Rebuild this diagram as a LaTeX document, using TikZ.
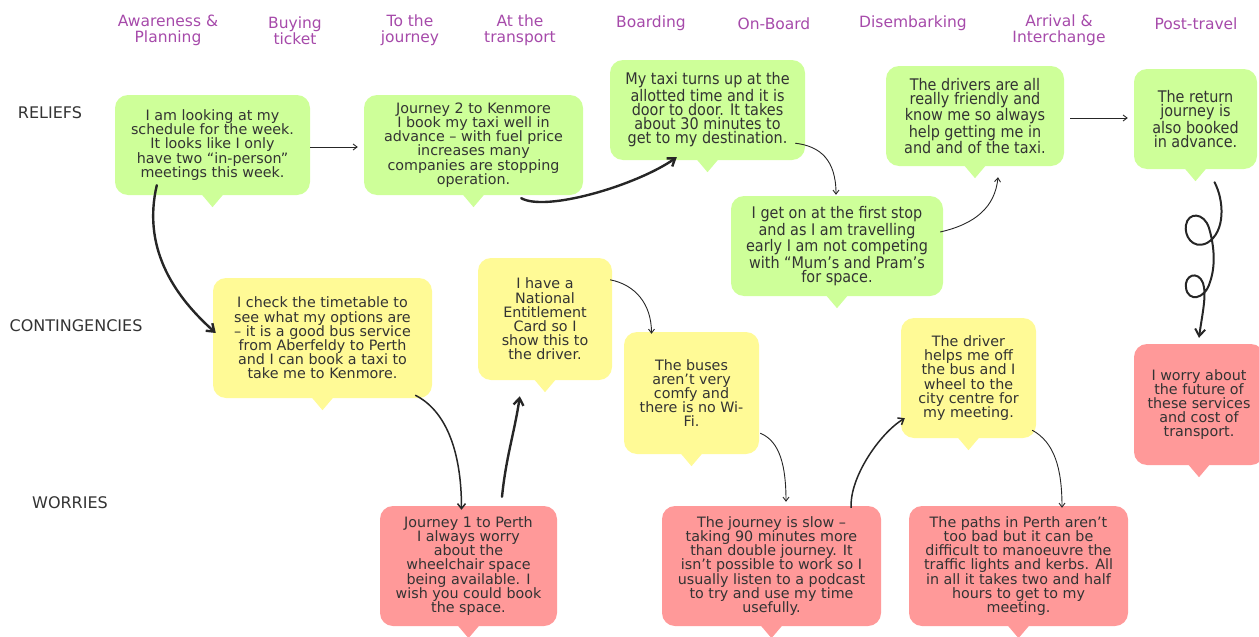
\documentclass[tikz,border=0pt]{standalone}
\usepackage{fontspec}
\setmainfont{DejaVu Sans}
\newfontfamily\condfont{DejaVu Sans}[FakeStretch=0.9]
\usetikzlibrary{arrows.meta}
\definecolor{ReliefGreen}{RGB}{206,255,153}
\definecolor{ContYellow}{RGB}{255,250,150}
\definecolor{WorryRed}{RGB}{255,153,153}
\definecolor{HeadPurple}{RGB}{166,74,170}
\definecolor{InkGrey}{RGB}{51,51,51}
\tikzset{
  bubble/.style={rounded corners=13pt, inner sep=0pt, align=center, text=InkGrey,
    font=\fontsize{14.3}{14.2}\selectfont},
  condtext/.style={font=\condfont\fontsize{16}{14.2}\selectfont},
  relief/.style={bubble, fill=ReliefGreen},
  contbox/.style={bubble, fill=ContYellow},
  worrybox/.style={bubble, fill=WorryRed},
  stage/.style={text=HeadPurple, align=center, font=\fontsize{15.5}{16}\selectfont},
  rowlabel/.style={text=InkGrey, font=\fontsize{16}{16}\selectfont},
  thinarr/.style={-{Straight Barb[length=4pt,width=6pt]}, line width=0.9pt, black!85},
  midarr/.style={-{Straight Barb[length=5pt,width=8pt]}, line width=1.5pt, black!85},
  thickarr/.style={-{Straight Barb[length=7pt,width=10pt]}, line width=2.4pt, black!85, line cap=round},
}

\begin{document}
\begin{tikzpicture}[x=1pt, y=-1pt]
  \useasboundingbox (0,0) rectangle (1259,637);
  % stages along the journey
  \foreach \x/\y/\t [count=\i] in {168/30.5/{Awareness \&\\Planning}, 295/30.5/{Buying\\ticket},
      410/30.5/{To the\\journey}, 520/30.5/{At the\\transport}, 651/23.5/Boarding, 774/23.5/On-Board,
      913/23.5/Disembarking, 1059/30.5/{Arrival \&\\Interchange}, 1196/23.5/Post-travel}
    \node[stage] (st\i) at (\x,\y) {\t};
  % rows
  \node[rowlabel] (lrel) at (50,113) {RELIEFS};
  \node[rowlabel] (lcon) at (76,326) {CONTINGENCIES};
  \node[rowlabel] (lwor) at (70,503) {WORRIES};

  % reliefs
  \node[relief, minimum width=195, minimum height=100] (g1) at (212.5,145)
    {I am looking at my\\schedule for the week.\\It looks like I only\\have two “in-person”\\meetings this week.};
  \node[relief, minimum width=219, minimum height=100] (g2) at (473.5,145)
    {Journey 2 to Kenmore\\I book my taxi well in\\advance – with fuel price\\increases many\\companies are stopping\\operation.};
  \node[relief, condtext, minimum width=195, minimum height=100] (g3) at (707.5,110)
    {My taxi turns up at the\\allotted time and it is\\door to door. It takes\\about 30 minutes to\\get to my destination.};
  \node[relief, condtext, minimum width=212, minimum height=100] (g4) at (837,246)
    {I get on at the first stop\\and as I am travelling\\early I am not competing\\with “Mum’s and Pram’s\\for space.};
  \node[relief, condtext, minimum width=178, minimum height=100] (g5) at (975,116)
    {The drivers are all\\really friendly and\\know me so always\\help getting me in\\and and of the taxi.};
  \node[relief, condtext, minimum width=123, minimum height=100] (g6) at (1195.5,119)
    {The return\\journey is\\also booked\\in advance.};

  % contingencies
  \node[contbox, minimum width=219, minimum height=120] (y1) at (322.5,338)
    {I check the timetable to\\see what my options are\\– it is a good bus service\\from Aberfeldy to Perth\\and I can book a taxi to\\take me to Kenmore.};
  \node[contbox, minimum width=134, minimum height=122] (y2) at (545,319)
    {I have a\\National\\Entitlement\\Card so I\\show this to\\the driver.};
  \node[contbox, minimum width=135, minimum height=122] (y3) at (691.5,393)
    {The buses\\aren’t very\\comfy and\\there is no Wi-\\Fi.};
  \node[contbox, minimum width=135, minimum height=120] (y4) at (968.5,378)
    {The driver\\helps me off\\the bus and I\\wheel to the\\city centre for\\my meeting.};

  % worries
  \node[worrybox, minimum width=177, minimum height=120] (r1) at (468.5,566)
    {Journey 1 to Perth\\I always worry\\about the\\wheelchair space\\being available. I\\wish you could book\\the space.};
  \node[worrybox, minimum width=219, minimum height=120] (r2) at (771.5,566)
    {The journey is slow –\\taking 90 minutes more\\than double journey. It\\isn’t possible to work so I\\usually listen to a podcast\\to try and use my time\\usefully.};
  \node[worrybox, minimum width=219, minimum height=120] (r3) at (1018.5,566)
    {The paths in Perth aren’t\\too bad but it can be\\difficult to manoeuvre the\\traffic lights and kerbs. All\\in all it takes two and half\\hours to get to my\\meeting.};
  \node[worrybox, minimum width=130, minimum height=121] (r4) at (1199,404.5)
    {I worry about\\the future of\\these services\\and cost of\\transport.};

  % speech bubble tails
  \foreach \n/\c in {g1/ReliefGreen, g2/ReliefGreen, g3/ReliefGreen, g4/ReliefGreen, g5/ReliefGreen,
      g6/ReliefGreen, y1/ContYellow, y2/ContYellow, y3/ContYellow, y4/ContYellow,
      r1/WorryRed, r2/WorryRed, r3/WorryRed, r4/WorryRed}
    \fill[\c] ([xshift=-11pt,yshift=1pt]\n.south) -- ([xshift=11pt,yshift=1pt]\n.south)
      -- ([yshift=-12pt]\n.south) -- cycle;

  % connectors
  \draw[thickarr] ([xshift=42pt,yshift=10pt]g1.south west) .. controls +(-14,60) and +(-45,-40) .. ([xshift=3pt,yshift=5pt]y1.west);
  \draw[thinarr] ([yshift=-2pt]g1.east) -- ([xshift=-6pt,yshift=-2pt]g2.west);
  \draw[thickarr] ([xshift=-62pt,yshift=-3pt]g2.south east) .. controls +(25,14) and +(-40,28) .. ([xshift=67pt,yshift=3pt]g3.south west);
  \draw[thinarr] ([xshift=-10pt,yshift=17pt]g3.south east) .. controls +(25,3) and +(0,-35) .. ([xshift=-1pt,yshift=1pt]g4.north);
  \draw[thinarr] ([xshift=-3pt,yshift=14pt]g4.east) .. controls +(35,-8) and +(-3,30) .. ([xshift=23pt,yshift=-11pt]g5.south);
  \draw[thinarr] ([xshift=6pt,yshift=-2pt]g5.east) -- ([xshift=-6pt,yshift=1pt]g6.west);
  \draw[thickarr, line width=2pt] ([xshift=19pt,yshift=-13pt]g6.south)
    .. controls (1224,200) and (1226,232) .. (1207,243)
    .. controls (1192,250) and (1184,235) .. (1186,225)
    .. controls (1188,212) and (1204,212) .. (1209,228)
    .. controls (1214,245) and (1216,265) .. (1210,282)
    .. controls (1205,300) and (1188,302) .. (1186,288)
    .. controls (1184,275) and (1198,270) .. (1203,283)
    .. controls (1207,295) and (1202,315) .. ([yshift=6pt]r4.north);
  \draw[midarr] ([xshift=-17pt,yshift=3pt]y1.south east) .. controls +(30,15) and +(0,-60) .. ([xshift=-7pt,yshift=-4pt]r1.north);
  \draw[thickarr] ([xshift=33.5pt,yshift=9pt]r1.north) .. controls +(4,-40) and +(-5,35) .. ([xshift=42pt,yshift=-16pt]y2.south west);
  \draw[thinarr] ([xshift=-2pt,yshift=-22pt]y2.north east) .. controls +(25,5) and +(0,-30) .. ([xshift=-40pt,yshift=-2pt]y3.north);
  \draw[thinarr] ([xshift=1pt,yshift=21pt]y3.south east) .. controls +(20,8) and +(0,-35) .. ([xshift=14.5pt,yshift=4pt]r2.north);
  \draw[midarr] ([xshift=-30pt,yshift=-2pt]r2.north east) .. controls +(-2,-30) and +(-25,15) .. ([xshift=4pt,yshift=20pt]y4.south west);
  \draw[thinarr] ([xshift=-4pt,yshift=8pt]y4.south east) .. controls +(22,12) and +(0,-40) .. ([xshift=43.5pt,yshift=-2pt]r3.north);
\end{tikzpicture}
\end{document}
